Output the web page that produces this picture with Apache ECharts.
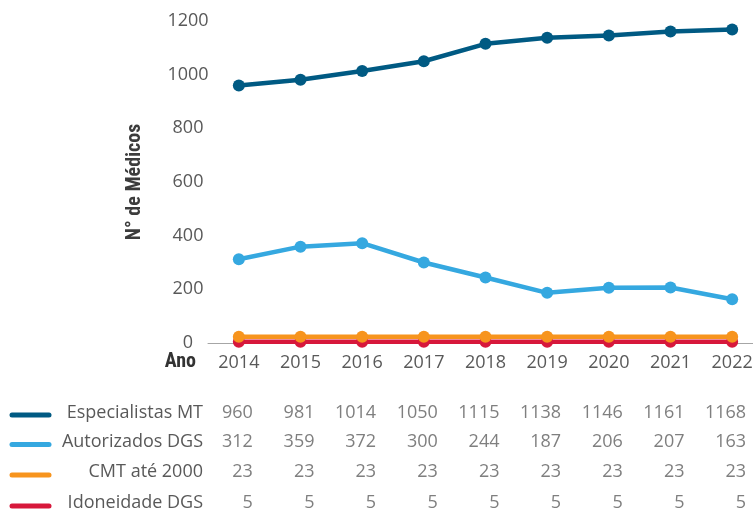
<!DOCTYPE html>
<html>
<head>
<meta charset="utf-8">
<script src="https://cdn.jsdelivr.net/npm/echarts@6/dist/echarts.min.js"></script>
<style>
html,body{margin:0;padding:0;background:#fff;}
#c{width:753px;height:512px;}
</style>
</head>
<body>
<div id="c"></div>
<script>
const categories = ['2014','2015','2016','2017','2018','2019','2020','2021','2022'];
const seriesNames = ['Especialistas MT','Autorizados DGS','CMT até 2000','Idoneidade DGS'];
const especialistas = [960, 981, 1014, 1050, 1115, 1138, 1146, 1161, 1168];
const autorizados = [312, 359, 372, 300, 244, 187, 206, 207, 163];
const cmt = [23, 23, 23, 23, 23, 23, 23, 23, 23];
const idoneidade = [5, 5, 5, 5, 5, 5, 5, 5, 5];
const colors = ['#005a83', '#35a8e0', '#f7941d', '#d7183b'];
const yTicks = [0, 200, 400, 600, 800, 1000, 1200];
const allValues = [especialistas, autorizados, cmt, idoneidade];

const FONT = '"Open Sans", "Noto Sans", sans-serif';
const BOLD = '"Roboto Condensed", "Liberation Sans Narrow", "Roboto", sans-serif';

const chart = echarts.init(document.getElementById('c'), null, {renderer: 'canvas'});

// draw order: red, orange, light blue, dark blue (later on top)
const order = [3, 2, 1, 0];
const series = order.map(i => ({
  name: seriesNames[i],
  type: 'line',
  data: allValues[i],
  symbol: 'circle',
  symbolSize: 12,
  lineStyle: {width: 4.5, color: colors[i]},
  itemStyle: {color: colors[i]},
  emphasis: {disabled: true},
  animation: false,
  z: 3
}));

chart.setOption({
  animation: false,
  grid: {left: 208, width: 555, top: 21, bottom: 169, containLabel: false, outerBoundsMode: 'none'},
  xAxis: {
    type: 'category',
    data: categories,
    boundaryGap: true,
    axisLine: {show: true, lineStyle: {color: '#a6a6a6', width: 1}},
    axisTick: {show: false},
    axisLabel: {color: '#595959', fontFamily: FONT, fontSize: 18, margin: 11},
    splitLine: {show: false}
  },
  yAxis: {
    type: 'value',
    min: 0,
    max: yTicks[yTicks.length - 1],
    interval: yTicks[1] - yTicks[0],
    axisLine: {show: false},
    axisTick: {show: false},
    splitLine: {show: false},
    axisLabel: {color: '#595959', fontFamily: FONT, fontSize: 18, margin: 20, align: 'center',
      verticalAlign: 'middle', padding: [7, 0, 0, 0], formatter: v => String(v)},
    name: 'N° de Médicos',
    nameLocation: 'middle',
    nameGap: 63,
    nameTextStyle: {color: '#3c3c3c', fontFamily: BOLD, fontWeight: 'bold', fontSize: 20}
  },
  series: series
});

// table below the chart, columns placed via the category axis
const rowTextY = [413, 442, 472, 503];
const rowLineY = [415, 444.5, 475, 506];
const graphics = [];
graphics.push({
  type: 'text', x: 196, y: 362,
  style: {text: 'Ano', fill: '#333333', font: 'bold 20px ' + BOLD, textAlign: 'right', textVerticalAlign: 'middle'}
});
seriesNames.forEach((name, r) => {
  graphics.push({
    type: 'line',
    shape: {x1: 12, y1: rowLineY[r], x2: 49, y2: rowLineY[r]},
    style: {stroke: colors[r], lineWidth: 5, lineCap: 'round'}
  });
  graphics.push({
    type: 'text', x: 203, y: rowTextY[r],
    style: {text: name, fill: '#595959', font: '18px ' + FONT, textAlign: 'right', textVerticalAlign: 'middle'}
  });
  categories.forEach((cat, c) => {
    const px = chart.convertToPixel({xAxisIndex: 0}, cat);
    graphics.push({
      type: 'text', x: px + 14, y: rowTextY[r],
      style: {text: String(allValues[r][c]), fill: '#7f7f7f', font: '18px ' + FONT, textAlign: 'right', textVerticalAlign: 'middle'}
    });
  });
});
chart.setOption({graphic: graphics});
</script>
</body>
</html>
